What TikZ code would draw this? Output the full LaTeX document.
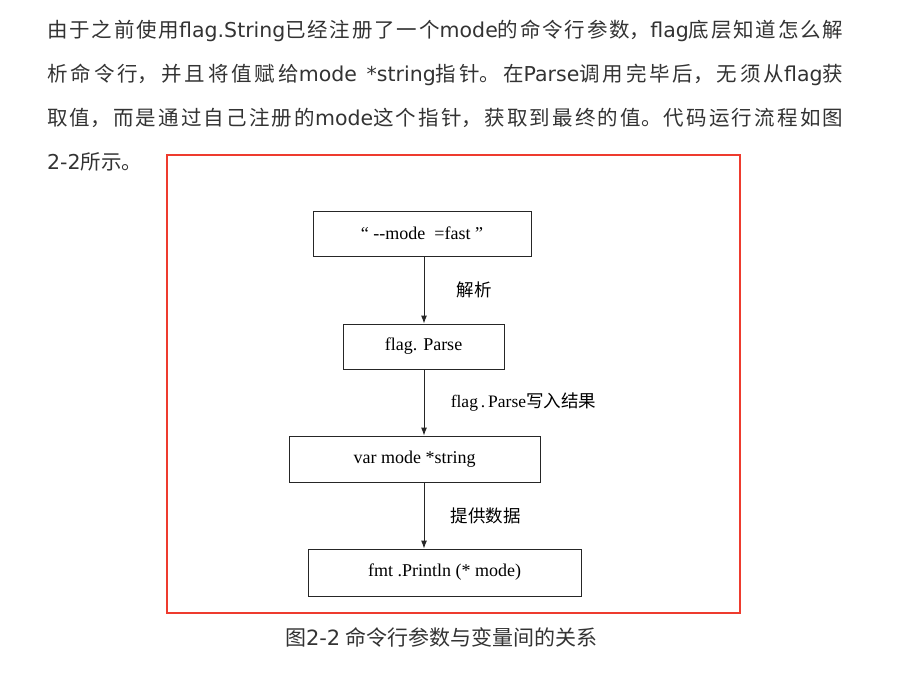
\documentclass[tikz,border=0pt]{standalone}
\usepackage{fontspec}
\setmainfont{Liberation Serif}
\newfontfamily\cjk{Noto Sans CJK SC}
\newfontfamily\lat{DejaVu Sans}
\usetikzlibrary{arrows.meta}
\definecolor{txtgray}{HTML}{333333}
\definecolor{framered}{HTML}{EE3B2E}
\tikzset{
	stepbox/.style={draw=black!85, line width=0.9pt, inner sep=0pt, minimum height=45pt, font=\fontsize{18}{20}\selectfont},
	flow/.style={draw=black!85, line width=0.9pt, -{Latex[length=8pt,width=6pt]}},
	lbl/.style={anchor=west, xshift=23pt, font=\cjk\fontsize{17.5}{20}\selectfont}
}
\begin{document}
\begin{tikzpicture}[x=1pt,y=-1pt]
	\useasboundingbox (0,0) rectangle (912,686);
	\node[anchor=north west, inner sep=0pt, text width=796pt, align=justify, text=txtgray, font={\cjk\fontsize{20.5}{44}\selectfont}] (para) at (47,20) {\XeTeXlinebreaklocale "zh"\XeTeXlinebreakskip=0pt plus 3pt
	由于之前使用{\lat flag.String}已经注册了一个{\lat mode}的命令行参数，{\lat flag}底层知道怎么解\linebreak
	析命令行，并且将值赋给{\lat mode *string}指针。在{\lat Parse}调用完毕后，无须从{\lat flag}获\linebreak
	取值，而是通过自己注册的{\lat mode}这个指针，获取到最终的值。代码运行流程如图\linebreak
	{\lat 2-2}所示。\par};
	\draw[framered, line width=2pt] (167,155) rectangle (740,613);
	\node[stepbox, minimum width=218pt] (input) at (422,233.5) {“ -{}-mode \ =fast ”};
	\node[stepbox, minimum width=161pt] (parse) at (423.5,346.5) {flag. Parse};
	\node[stepbox, minimum width=251pt, minimum height=46pt] (var) at (414.5,459) {var mode *string};
	\node[stepbox, minimum width=273pt, minimum height=47pt] (print) at (444.5,572.5) {fmt .Println (* mode)};
	\coordinate (axis) at (424,0);
	\draw[flow] (input.south -| axis) -- node[lbl, xshift=6pt] {解析} (parse.north -| axis);
	\draw[flow] (parse.south -| axis) -- node[lbl] {{\rmfamily flag\,.\,Parse}写入结果} (var.north -| axis);
	\draw[flow] (var.south -| axis) -- node[lbl] {提供数据} (print.north -| axis);
	\node[text=txtgray, font=\cjk\fontsize{21}{24}\selectfont] (cap) at (441,637) {图{\lat 2-2} 命令行参数与变量间的关系};
\end{tikzpicture}
\end{document}
